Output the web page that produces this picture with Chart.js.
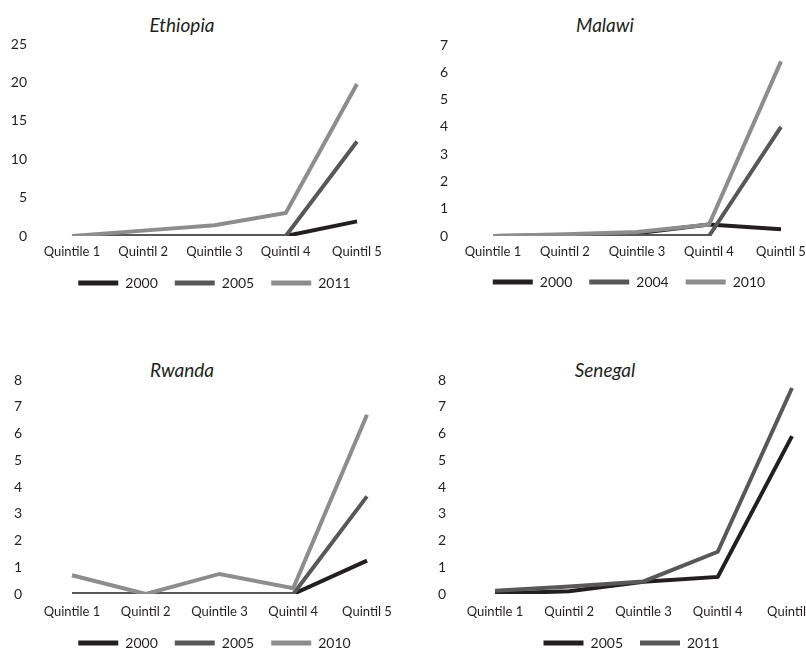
<!DOCTYPE html>
<html>
<head>
<meta charset="utf-8">
<script src="https://cdn.jsdelivr.net/npm/chart.js@4.4.1/dist/chart.umd.min.js"></script>
<style>
  html, body { margin: 0; padding: 0; background: #fff; width: 806px; height: 650px; overflow: hidden; position: relative; }
  canvas { position: absolute; }
  .title { position: absolute; width: 200px; text-align: center; font: italic 19px Lato, sans-serif; color: #231f20; line-height: 22px; }
</style>
</head>
<body>
<div class="title" style="left:82px; top:14px">Ethiopia</div>
<div class="title" style="left:505px; top:14px">Malawi</div>
<div class="title" style="left:82px; top:359px">Rwanda</div>
<div class="title" style="left:505px; top:359px">Senegal</div>
<canvas id="ethiopiaChart"></canvas>
<canvas id="malawiChart"></canvas>
<canvas id="rwandaChart"></canvas>
<canvas id="senegalChart"></canvas>
<script>
const QUINTILES = ['Quintile 1', 'Quintil 2', 'Quintile 3', 'Quintil 4', 'Quintil 5'];

const ETHIOPIA_YEARS = ['2000', '2005', '2011'];
const ETHIOPIA_2000 = [0, 0, 0, 0, 1.9];
const ETHIOPIA_2005 = [0, 0, 0, 0, 12.3];
const ETHIOPIA_2011 = [0, 0.7, 1.4, 3.0, 19.8];

const MALAWI_YEARS = ['2000', '2004', '2010'];
const MALAWI_2000 = [0, 0.03, 0.1, 0.42, 0.25];
const MALAWI_2004 = [0, 0, 0, 0, 4.0];
const MALAWI_2010 = [0, 0.06, 0.15, 0.42, 6.4];

const RWANDA_YEARS = ['2000', '2005', '2010'];
const RWANDA_2000 = [0, 0, 0, 0, 1.25];
const RWANDA_2005 = [0, 0, 0, 0, 3.65];
const RWANDA_2010 = [0.7, 0, 0.75, 0.22, 6.7];

const SENEGAL_YEARS = ['2005', '2011'];
const SENEGAL_2005 = [0.02, 0.1, 0.46, 0.64, 5.9];
const SENEGAL_2011 = [0.12, 0.28, 0.47, 1.58, 7.7];

const GREYS_3 = ['#231f20', '#58585a', '#8d8d8f'];
const GREYS_2 = ['#231f20', '#58585a'];

const LEGEND_FONT = 14;
const LEGEND_PAD = 17;
const X_FONT = 13;

Chart.defaults.font.family = 'Lato, sans-serif';
Chart.defaults.color = '#231f20';

// p: page-pixel layout of one panel (plot edges, label row, legend row)
function makeChart(id, years, series, colors, yMax, yStep, p) {
  const canvas = document.getElementById(id);
  const xPad = p.labelMid - p.plotBottom - X_FONT / 2;
  const xHeight = p.legendY - p.plotBottom - LEGEND_PAD - LEGEND_FONT / 2;
  // the legend spans the whole canvas, so the canvas width centres it;
  // an empty right-hand axis fills the space beyond the plot
  const width = Math.round(2 * (p.legendMid - p.left));
  const spacer = width - (p.plotRight - p.left);
  canvas.width = width;
  canvas.height = p.plotBottom - p.top + xHeight + LEGEND_FONT + LEGEND_PAD + 10;
  canvas.style.left = p.left + 'px';
  canvas.style.top = p.top + 'px';

  const n = series.length;
  const datasets = series.map((values, i) => ({
    label: years[i],
    data: values,
    yAxisID: 'y',
    borderColor: colors[i],
    backgroundColor: colors[i],
    borderWidth: 4,
    pointRadius: 0,
    tension: 0,
    order: n - i
  }));

  return new Chart(canvas, {
    type: 'line',
    data: { labels: QUINTILES, datasets },
    options: {
      responsive: false,
      animation: false,
      layout: {
        padding: { left: 0, right: 0, top: p.plotTop - p.top, bottom: 0 }
      },
      scales: {
        x: {
          offset: false,
          grid: { display: false, drawTicks: false },
          border: { display: false },
          ticks: { font: { size: X_FONT, lineHeight: 1 }, padding: xPad, maxRotation: 0, autoSkip: false },
          afterFit(scale) {
            scale.height = xHeight;
            scale.paddingLeft = 0;
            scale.paddingRight = 0;
          }
        },
        y: {
          min: 0,
          max: yMax,
          grid: { display: false, drawTicks: false },
          border: { display: false },
          ticks: { stepSize: yStep, font: { size: 14 }, padding: p.yPad },
          afterFit(scale) {
            scale.width = p.plotLeft - p.left;
            scale.paddingTop = 0;
            scale.paddingBottom = 0;
          }
        },
        spacer: {
          type: 'linear',
          position: 'right',
          grid: { display: false, drawTicks: false },
          border: { display: false },
          ticks: { display: false },
          afterFit(scale) {
            scale.width = spacer;
            scale.paddingTop = 0;
            scale.paddingBottom = 0;
          }
        }
      },
      plugins: {
        title: { display: false },
        tooltip: { enabled: false },
        legend: {
          position: 'bottom',
          fullSize: true,
          labels: {
            boxWidth: 40,
            boxHeight: 5,
            padding: LEGEND_PAD,
            font: { size: LEGEND_FONT },
            generateLabels(chart) {
              return Chart.defaults.plugins.legend.labels.generateLabels(chart)
                .map((item) => ({ ...item, lineWidth: 0, fillStyle: item.strokeStyle }))
                .sort((a, b) => a.datasetIndex - b.datasetIndex);
            }
          }
        }
      }
    }
  });
}

makeChart('ethiopiaChart', ETHIOPIA_YEARS, [ETHIOPIA_2000, ETHIOPIA_2005, ETHIOPIA_2011], GREYS_3, 25, 5, {
  left: 0, top: 0,
  plotLeft: 72, plotRight: 357, plotTop: 44, plotBottom: 236,
  labelMid: 252, legendY: 283, legendMid: 214.5, yPad: 45
});

makeChart('malawiChart', MALAWI_YEARS, [MALAWI_2000, MALAWI_2004, MALAWI_2010], GREYS_3, 7, 1, {
  left: 403, top: 0,
  plotLeft: 493, plotRight: 781, plotTop: 45, plotBottom: 236,
  labelMid: 252, legendY: 282, legendMid: 629, yPad: 45
});

makeChart('rwandaChart', RWANDA_YEARS, [RWANDA_2000, RWANDA_2005, RWANDA_2010], GREYS_3, 8, 1, {
  left: 0, top: 300,
  plotLeft: 72, plotRight: 367, plotTop: 380, plotBottom: 594,
  labelMid: 612, legendY: 643, legendMid: 214.5, yPad: 50
});

makeChart('senegalChart', SENEGAL_YEARS, [SENEGAL_2005, SENEGAL_2011], GREYS_2, 8, 1, {
  left: 403, top: 300,
  plotLeft: 495, plotRight: 792, plotTop: 380, plotBottom: 594,
  labelMid: 612, legendY: 643, legendMid: 631.5, yPad: 49
});
</script>
</body>
</html>
